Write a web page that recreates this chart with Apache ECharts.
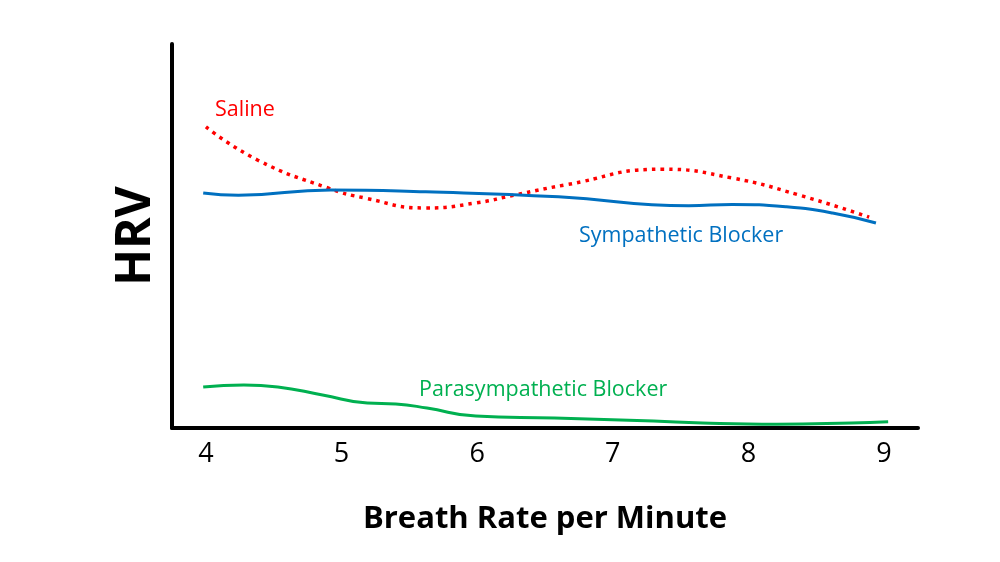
<!DOCTYPE html>
<html>
<head>
<meta charset="utf-8">
<script src="https://cdn.jsdelivr.net/npm/echarts@6/dist/echarts.min.js"></script>
<style>html,body{margin:0;padding:0;background:#fff}#c{width:1000px;height:562px}</style>
</head>
<body>
<div id="c"></div>
<script>
const xTicks = [4, 5, 6, 7, 8, 9];
const salineX = [4, 4.38, 4.9, 5.17, 5.62, 5.99, 6.28, 6.65, 7.36, 7.88, 8.37, 8.89];
const salineY = [78.4, 69.8, 62.5, 59.9, 57.3, 58.6, 60.7, 63.3, 67.4, 65.1, 60.7, 54.9];
const sympX = [3.98, 4.24, 4.92, 5.62, 6.6, 7.56, 7.88, 8.28, 8.62, 8.94];
const sympY = [61.2, 60.6, 62.0, 61.5, 60.2, 57.9, 58.2, 57.6, 56.0, 53.4];
const paraX = [3.98, 4.28, 4.53, 4.86, 5.19, 5.4, 5.63, 5.99, 6.57, 7.3, 7.66, 8.21, 8.76, 9.03];
const paraY = [10.7, 11.2, 10.7, 8.6, 6.5, 6.25, 5.2, 3.1, 2.6, 1.8, 1.3, 1.0, 1.3, 1.6];

const zip = (xs, ys) => xs.map((x, i) => [x, ys[i]]);
const font = 'Open Sans';

const chart = echarts.init(document.getElementById('c'));
chart.setOption({
  animation: false,
  backgroundColor: '#fff',
  grid: { left: 172, right: 82, top: 44, bottom: 134 },
  xAxis: {
    type: 'value', min: 3.75, max: 9.25,
    name: 'Breath Rate per Minute', nameLocation: 'middle', nameGap: 76,
    nameTextStyle: { fontFamily: font, fontWeight: 'bold', fontSize: 31, color: '#000' },
    axisLine: { show: true, lineStyle: { color: '#000', width: 4 } },
    axisTick: { show: false },
    splitLine: { show: false },
    axisLabel: { customValues: xTicks, fontFamily: font, fontSize: 27, color: '#000', margin: 13 }
  },
  yAxis: {
    type: 'value', min: 0, max: 100,
    name: 'HRV', nameLocation: 'middle', nameGap: 12, nameRotate: 90,
    nameTextStyle: { fontFamily: font, fontWeight: 'bold', fontSize: 48, color: '#000' },
    axisLine: { show: true, lineStyle: { color: '#000', width: 4 } },
    axisTick: { show: false },
    splitLine: { show: false },
    axisLabel: { show: false }
  },
  series: [
    { name: 'Saline', type: 'line', smooth: 0.5, symbol: 'none', data: zip(salineX, salineY),
      lineStyle: { color: '#FF0000', width: 3.5, type: [3.5, 5] } },
    { name: 'Sympathetic Blocker', type: 'line', smooth: 0.5, symbol: 'none', data: zip(sympX, sympY),
      lineStyle: { color: '#0070C0', width: 3 } },
    { name: 'Parasympathetic Blocker', type: 'line', smooth: 0.5, symbol: 'none', data: zip(paraX, paraY),
      lineStyle: { color: '#00B050', width: 3 } }
  ],
  graphic: [
    { type: 'text', left: 215, top: 99, style: { text: 'Saline', fill: '#FF0000', font: '21.5px "Open Sans"' } },
    { type: 'text', left: 579, top: 225, style: { text: 'Sympathetic Blocker', fill: '#0070C0', font: '21.5px "Open Sans"' } },
    { type: 'text', left: 419, top: 379, style: { text: 'Parasympathetic Blocker', fill: '#00B050', font: '21.5px "Open Sans"' } }
  ]
});
</script>
</body>
</html>
